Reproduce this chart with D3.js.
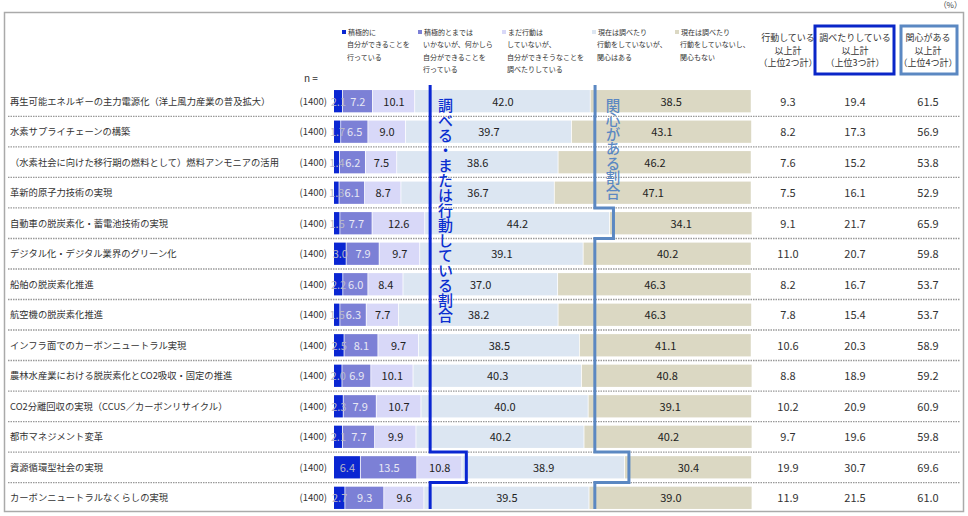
<!DOCTYPE html>
<html>
<head>
<meta charset="utf-8">
<script src="https://cdn.jsdelivr.net/npm/d3@7"></script>
<style>
  body { margin: 0; background: #fff; }
  svg text { font-family: "Noto Sans CJK JP", "Noto Sans", sans-serif; }
</style>
</head>
<body>
<script>
// 項目
var items = [
  "再生可能エネルギーの主力電源化（洋上風力産業の普及拡大）",
  "水素サプライチェーンの構築",
  "（水素社会に向けた移行期の燃料として）燃料アンモニアの活用",
  "革新的原子力技術の実現",
  "自動車の脱炭素化・蓄電池技術の実現",
  "デジタル化・デジタル業界のグリーン化",
  "船舶の脱炭素化推進",
  "航空機の脱炭素化推進",
  "インフラ面でのカーボンニュートラル実現",
  "農林水産業における脱炭素化とCO2吸収・固定の推進",
  "CO2分離回収の実現（CCUS／カーボンリサイクル）",
  "都市マネジメント変革",
  "資源循環型社会の実現",
  "カーボンニュートラルなくらしの実現"
];
var nValues = [1400, 1400, 1400, 1400, 1400, 1400, 1400, 1400, 1400, 1400, 1400, 1400, 1400, 1400];

// 回答カテゴリ（凡例）
var legendLabels = [
  ["積極的に", "自分ができることを", "行っている"],
  ["積極的とまでは", "いかないが、何かしら", "自分ができることを", "行っている"],
  ["まだ行動は", "していないが、", "自分ができそうなことを", "調べたりしている"],
  ["現在は調べたり", "行動をしていないが、", "関心はある"],
  ["現在は調べたり", "行動をしていないし、", "関心もない"]
];

// 各カテゴリの値（%）
var s1 = [2.1, 1.7, 1.4, 1.3, 1.5, 3.0, 2.2, 1.5, 2.5, 2.0, 2.3, 2.1, 6.4, 2.7];
var s2 = [7.2, 6.5, 6.2, 6.1, 7.7, 7.9, 6.0, 6.3, 8.1, 6.9, 7.9, 7.7, 13.5, 9.3];
var s3 = [10.1, 9.0, 7.5, 8.7, 12.6, 9.7, 8.4, 7.7, 9.7, 10.1, 10.7, 9.9, 10.8, 9.6];
var s4 = [42.0, 39.7, 38.6, 36.7, 44.2, 39.1, 37.0, 38.2, 38.5, 40.3, 40.0, 40.2, 38.9, 39.5];
var s5 = [38.5, 43.1, 46.2, 47.1, 34.1, 40.2, 46.3, 46.3, 41.1, 40.8, 39.1, 40.2, 30.4, 39.0];

// 合計列
var top2 = [9.3, 8.2, 7.6, 7.5, 9.1, 11.0, 8.2, 7.8, 10.6, 8.8, 10.2, 9.7, 19.9, 11.9];
var top3 = [19.4, 17.3, 15.2, 16.1, 21.7, 20.7, 16.7, 15.4, 20.3, 18.9, 20.9, 19.6, 30.7, 21.5];
var top4 = [61.5, 56.9, 53.8, 52.9, 65.9, 59.8, 53.7, 53.7, 58.9, 59.2, 60.9, 59.8, 69.6, 61.0];
var sumHeaders = [
  ["行動している", "以上計", "（上位2つ計）"],
  ["調べたりしている", "以上計", "（上位3つ計）"],
  ["関心がある", "以上計", "（上位4つ計）"]
];

var colors = ["#0a26d2", "#7c80d6", "#d8d8f8", "#dce6f2", "#dbd8c3"];
var labelColors = ["#b8b8c8", "#e8e8f4", "#222", "#222", "#222"];

var W = 968, H = 516;
var svg = d3.select("body").append("svg").attr("width", W).attr("height", H);

// 外枠
svg.append("rect")
  .attr("x", 4.5).attr("y", 12.5)
  .attr("width", 959).attr("height", 499)
  .attr("fill", "none").attr("stroke", "#aaa").attr("stroke-width", 1.5);
svg.append("text").attr("x", 962).attr("y", 8).attr("text-anchor", "end")
  .attr("font-size", 8).attr("fill", "#444").text("（%）");

var x = d3.scaleLinear().domain([0, 100]).range([334, 752]);
var y = d3.scaleBand().domain(d3.range(items.length)).range([87, 512]).paddingInner(0.27).paddingOuter(0.1);
var bh = y.bandwidth();
var pitch = y.step();

var rows = items.map(function (d, i) {
  return { i: i, name: d, v: [s1[i], s2[i], s3[i], s4[i], s5[i]] };
});

// 区切り線
svg.append("g").selectAll("line")
  .data(d3.range(1, items.length))
  .enter().append("line")
  .attr("x1", 8).attr("x2", 960)
  .attr("y1", function (d) { return y(d) - (pitch - bh) / 2; })
  .attr("y2", function (d) { return y(d) - (pitch - bh) / 2; })
  .attr("stroke", "#999").attr("stroke-width", 1.3).attr("stroke-dasharray", "1.5,1");

// 凡例
var legX = [342, 418, 502, 592, 675];
var leg = svg.append("g").selectAll("g").data(legendLabels).enter().append("g")
  .attr("transform", function (d, i) { return "translate(" + legX[i] + ",0)"; });
leg.append("rect").attr("x", 0).attr("y", 30).attr("width", 4).attr("height", 4)
  .attr("fill", function (d, i) { return colors[i]; });
leg.each(function (d) {
  d3.select(this).selectAll("text").data(d).enter().append("text")
    .attr("x", function (t, j) { return j === 0 ? 6 : 5; })
    .attr("y", function (t, j) { return 35 + j * 12.3; })
    .attr("font-size", 7).attr("fill", "#333").text(function (t) { return t; });
});

// n =
svg.append("text").attr("x", 304).attr("y", 82).attr("font-size", 10).attr("fill", "#333").text("n =");

// 項目名と n
var rowG = svg.append("g").selectAll("g").data(rows).enter().append("g")
  .attr("transform", function (d) { return "translate(0," + y(d.i) + ")"; });
rowG.append("text").attr("x", 10).attr("y", bh / 2 + 3.5)
  .attr("font-size", 9.3).attr("fill", "#333").text(function (d) { return d.name; });
rowG.append("text").attr("x", 327).attr("y", bh / 2 + 3.5).attr("text-anchor", "end")
  .attr("font-size", 9.5).attr("fill", "#333").text(function (d, i) { return "(" + nValues[i] + ")"; });

// 積み上げ棒
rowG.each(function (d) {
  var g = d3.select(this);
  var segs = [];
  var acc = 0;
  d.v.forEach(function (v, k) {
    segs.push({ k: k, v: v, x0: x(acc), x1: x(acc + v) });
    acc += v;
  });
  g.selectAll("rect").data(segs).enter().append("rect")
    .attr("x", function (s) { return s.x0; }).attr("y", 0)
    .attr("width", function (s) { return Math.max(0, s.x1 - s.x0 - 0.8); })
    .attr("height", bh)
    .attr("fill", function (s) { return colors[s.k]; });
  g.selectAll("text.val").data(segs).enter().append("text")
    .attr("class", "val")
    .attr("x", function (s) { return (s.x0 + s.x1) / 2; }).attr("y", bh / 2 + 4.5)
    .attr("text-anchor", "middle").attr("font-size", 11)
    .attr("fill", function (s) { return labelColors[s.k]; })
    .text(function (s) { return s.v.toFixed(1); });
});

// 合計列
var sumX = [788, 855, 928];
[top2, top3, top4].forEach(function (arr, c) {
  rowG.append("text").attr("x", sumX[c]).attr("y", bh / 2 + 4.5)
    .attr("text-anchor", "middle").attr("font-size", 11).attr("fill", "#333")
    .text(function (d) { return arr[d.i].toFixed(1); });
});
var hdr = svg.append("g").selectAll("g").data(sumHeaders).enter().append("g");
hdr.each(function (d, c) {
  d3.select(this).selectAll("text").data(d).enter().append("text")
    .attr("x", sumX[c]).attr("y", function (t, j) { return 41 + j * 12.7; })
    .attr("text-anchor", "middle").attr("font-size", 9).attr("fill", "#333")
    .text(function (t) { return t; });
});
svg.append("rect").attr("x", 815).attr("y", 26).attr("width", 79).attr("height", 48)
  .attr("fill", "none").attr("stroke", "#0a26c8").attr("stroke-width", 3);
svg.append("rect").attr("x", 901).attr("y", 26).attr("width", 56).attr("height", 48)
  .attr("fill", "none").attr("stroke", "#5b88c2").attr("stroke-width", 3);

// 割合の境界線（段付き）
function stepPath(cum, base) {
  var pts = [];
  cum.forEach(function (c, i) {
    var xi = Math.max(x(base), x(c) + 4);
    var yTop = i === 0 ? 85 : y(i) - (pitch - bh) / 2;
    var yBot = i === cum.length - 1 ? 509 : y(i) + bh + (pitch - bh) / 2;
    pts.push([xi, yTop], [xi, yBot]);
  });
  return d3.line()(pts);
}
svg.append("path").attr("d", stepPath(top3, 23))
  .attr("fill", "none").attr("stroke", "#0a26d2").attr("stroke-width", 3);
svg.append("path").attr("d", stepPath(top4, 62.4))
  .attr("fill", "none").attr("stroke", "#5b88c2").attr("stroke-width", 3);

// 縦書きの注記
svg.append("text").attr("x", 445.5).attr("y", 98)
  .attr("font-size", 15).attr("font-weight", 500).attr("fill", "#0a2ed0")
  .style("writing-mode", "vertical-rl")
  .text("調べる・または行動している割合");
svg.append("text").attr("x", 613).attr("y", 98)
  .attr("font-size", 14.5).attr("font-weight", 500).attr("fill", "#5b88c2")
  .style("writing-mode", "vertical-rl")
  .text("関心がある割合");
</script>
</body>
</html>
